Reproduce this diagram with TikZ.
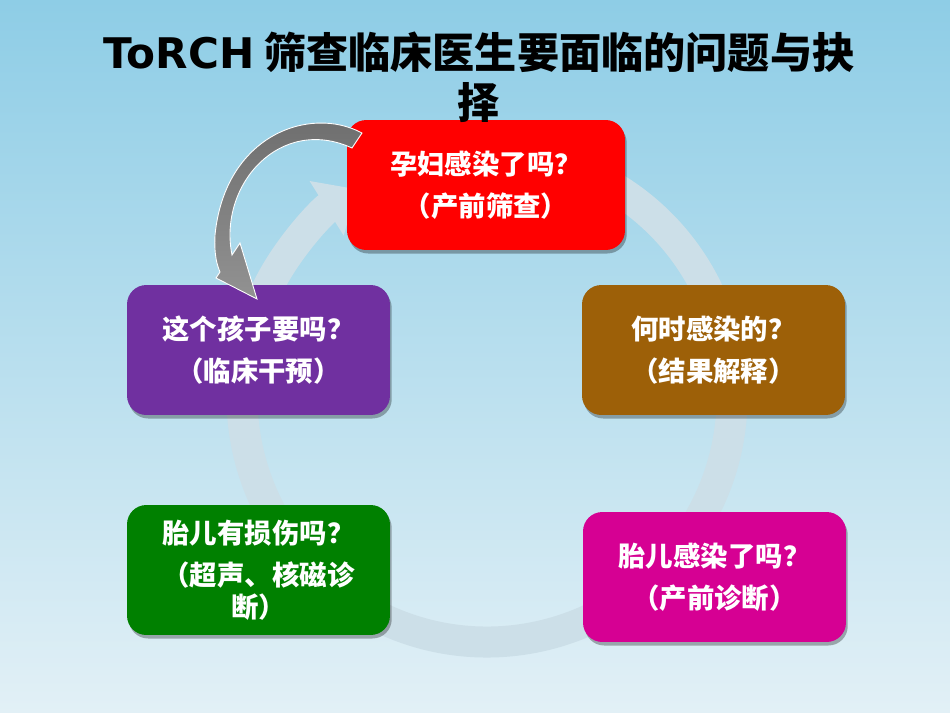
\documentclass[tikz,border=0pt]{standalone}
\usepackage{fontspec}
\newfontfamily\cjk{Noto Sans CJK SC}
\newfontfamily\latin{DejaVu Sans}
\usetikzlibrary{arrows.meta, shadows}
\definecolor{bgtop}{RGB}{142,205,230}
\definecolor{bgbot}{RGB}{226,240,246}
\definecolor{ringc}{RGB}{204,223,232}
\definecolor{qred}{RGB}{255,0,0}
\definecolor{qbrown}{RGB}{157,96,8}
\definecolor{qmagenta}{RGB}{214,0,147}
\definecolor{qgreen}{RGB}{0,128,0}
\definecolor{qpurple}{RGB}{112,48,160}

\begin{document}
\begin{tikzpicture}[x=0.02cm, y=-0.02cm,
  qbox/.style={rounded corners=11pt, minimum width=5.26cm, minimum height=2.6cm, inner sep=2pt,
    text=white, align=center, font=\cjk\bfseries\fontsize{15.6pt}{18.1pt}\selectfont,
    drop shadow={shadow xshift=1pt, shadow yshift=-2pt, fill=black, opacity=0.3}},
  cycle ring/.style={draw=ringc, line width=0.62cm, -{Triangle[width=1.24cm, length=0.72cm]}},
  bend arrow/.style={top color={rgb,255:red,108;green,108;blue,108}, bottom color={rgb,255:red,146;green,146;blue,146}, draw=white, line width=0.5pt}]
\shade[top color=bgtop, bottom color=bgbot] (0,0) rectangle (950,713);
\coordinate (cyc) at (487,397);
\draw[cycle ring] (cyc) ++(-60:245) arc[start angle=-60, end angle=238, radius=245];
\node[qbox, fill=qred, minimum width=5.56cm] (infect) at (486,185) {孕妇感染了吗？\\[5.7pt]（产前筛查）};
\node[qbox, fill=qbrown] (when) at (713.5,350) {何时感染的？\\[5.7pt]（结果解释）};
\node[qbox, fill=qmagenta] (fetal) at (714.5,577) {胎儿感染了吗？\\[5.7pt]（产前诊断）};
\node[qbox, fill=qgreen] (damage) at (258.5,570) {胎儿有损伤吗？\\[5.7pt]（超声、核磁诊\\断）};
\node[qbox, fill=qpurple] (keep) at (258.5,350) {这个孩子要吗？\\[5.7pt]（临床干预）};
\path[bend arrow] (362,133) .. controls (310,105) and (225,135) .. (215,235)
  .. controls (214,255) and (217,265) .. (220,272) -- (216,278) -- (257,299) -- (240,243) -- (232,255)
  .. controls (218,185) and (280,115) .. (352,148) -- cycle;
\node[font=\cjk\bfseries\fontsize{24pt}{28.4pt}\selectfont, align=center] (title) at (479,77)
  {{\latin\bfseries ToRCH} 筛查临床医生要面临的问题与抉\\择};
\end{tikzpicture}
\end{document}
